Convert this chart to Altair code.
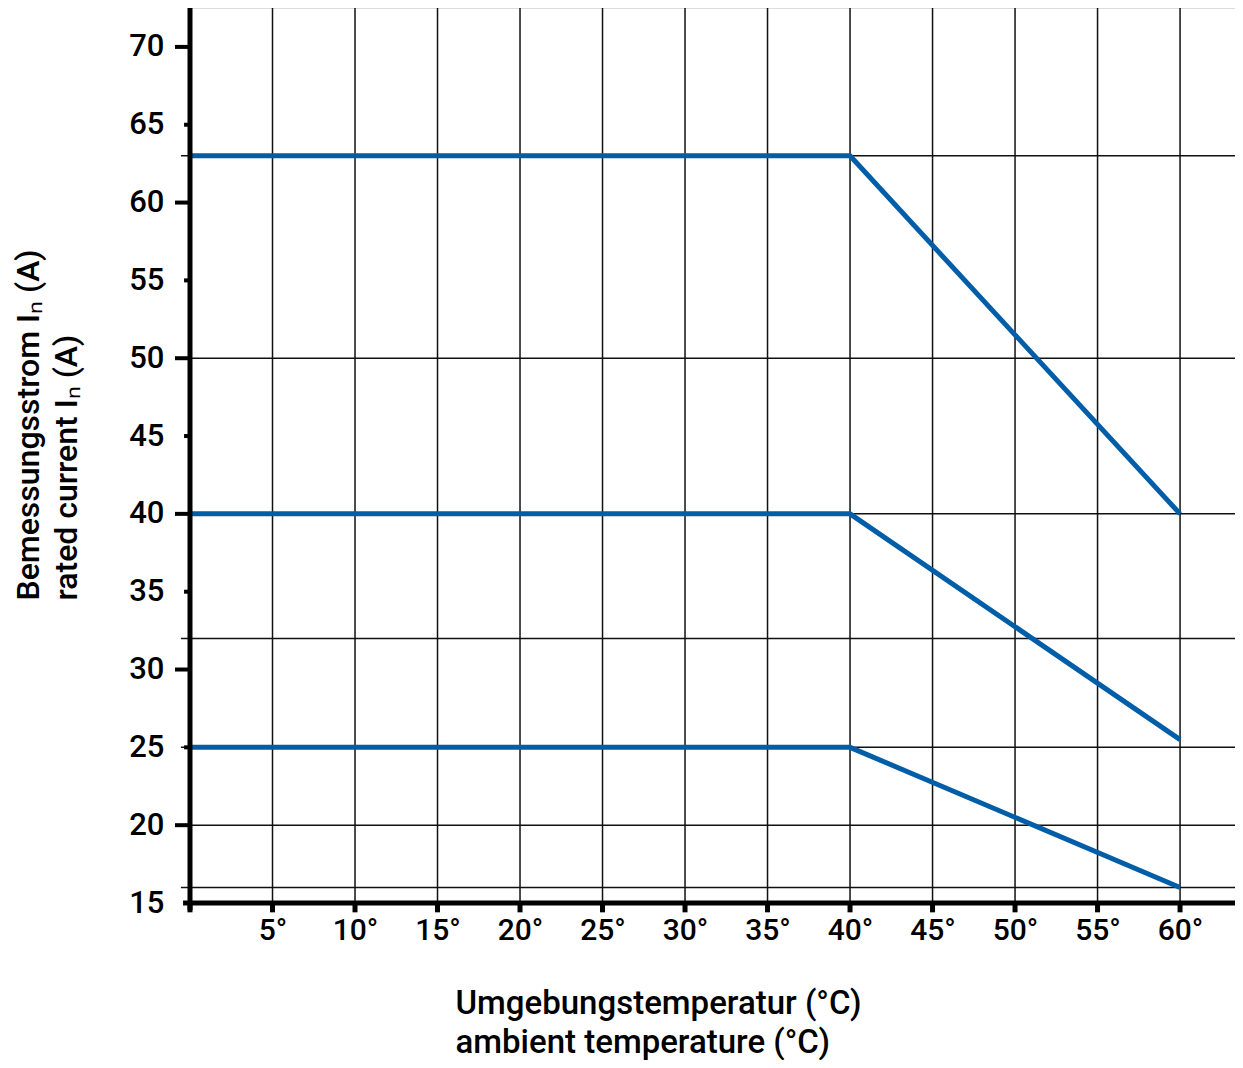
import altair as alt
import pandas as pd

# ---- data ----
temps = [0, 40, 60]
curve_63 = [63, 63, 40]
curve_40 = [40, 40, 25.5]
curve_25 = [25, 25, 16]

x_ticks = [0, 5, 10, 15, 20, 25, 30, 35, 40, 45, 50, 55, 60]
x_labels = [5, 10, 15, 20, 25, 30, 35, 40, 45, 50, 55, 60]
y_labels = [15, 20, 25, 30, 35, 40, 45, 50, 55, 60, 65, 70]
h_grid = [16, 20, 25, 32, 40, 50, 63]
v_grid = [5, 10, 15, 20, 25, 30, 35, 40, 45, 50, 55, 60]

XMAX = 63.33
YMIN, YMAX = 15, 72.5
W, H = 1045, 895

BLUE = "#005ea8"
FONT = "Roboto"
WEIGHT = 500

xs = alt.Scale(domain=[0, XMAX], nice=False, zero=False)
ys = alt.Scale(domain=[YMIN, YMAX], nice=False, zero=False)

x_axis = alt.Axis(
    values=x_labels, labelExpr="datum.value + '°'", domain=False, ticks=False, grid=False,
    labelFont=FONT, labelFontSize=30, labelFontWeight=WEIGHT, labelColor="#000",
    labelPadding=12, labelBaseline="top",
    title=["Umgebungstemperatur (°C)", "ambient temperature (°C)"],
    titleFont=FONT, titleFontSize=33, titleFontWeight=WEIGHT, titleColor="#000",
    titleAnchor="start", titleAlign="left", titleX=265, titleY=100,
    titleBaseline="middle", titleLineHeight=39,
)
y_axis = alt.Axis(
    values=y_labels, domain=False, ticks=False, grid=False,
    labelFont=FONT, labelFontSize=31, labelFontWeight=WEIGHT, labelColor="#000",
    labelPadding=26, labelBaseline="middle",
    title=["Bemessungsstrom Iₙ (A)", "rated current Iₙ (A)"],
    titleFont=FONT, titleFontSize=32, titleFontWeight=WEIGHT, titleColor="#000",
    titleAngle=-90, titleAlign="left", titleX=-162, titleY=592,
    titleBaseline="middle", titleLineHeight=38,
)


def enc_rule(df):
    return dict(
        x=alt.X("x:Q", scale=xs, axis=x_axis),
        x2="x2:Q",
        y=alt.Y("y:Q", scale=ys, axis=y_axis),
        y2="y2:Q",
    )


# horizontal grid lines
hg = pd.DataFrame({"y": h_grid, "y2": h_grid, "x": -0.55, "x2": XMAX})
# vertical grid lines
vg = pd.DataFrame({"x": v_grid, "x2": v_grid, "y": YMIN, "y2": YMAX})
# axis lines
ax = pd.DataFrame({"x": [0, -0.42], "x2": [0, XMAX], "y": [YMIN - 0.45, YMIN], "y2": [YMAX, YMIN]})
# x ticks
xt = pd.DataFrame({"x": x_ticks, "x2": x_ticks, "y": YMIN, "y2": YMIN - 0.6})
# y ticks
yt = pd.DataFrame({
    "y": y_labels, "y2": y_labels,
    "x": [-0.91 if v % 10 == 0 else -0.36 for v in y_labels],
    "x2": 0,
})

grid_h = alt.Chart(hg).mark_rule(color="#111", strokeWidth=1.5).encode(**enc_rule(hg))
grid_v = alt.Chart(vg).mark_rule(color="#111", strokeWidth=1.5).encode(**enc_rule(vg))
axes = alt.Chart(ax).mark_rule(color="#000", strokeWidth=5).encode(**enc_rule(ax))
xticks = alt.Chart(xt).mark_rule(color="#000", strokeWidth=5).encode(**enc_rule(xt))
yticks = alt.Chart(yt).mark_rule(color="#000", strokeWidth=4).encode(**enc_rule(yt))

rows = []
for name, vals in [("63", curve_63), ("40", curve_40), ("25", curve_25)]:
    for t, v in zip(temps, vals):
        rows.append({"curve": name, "x": t, "y": v})
curves_df = pd.DataFrame(rows)

curves = alt.Chart(curves_df).mark_line(color=BLUE, strokeWidth=5, strokeJoin="miter").encode(
    x=alt.X("x:Q", scale=xs, axis=x_axis),
    y=alt.Y("y:Q", scale=ys, axis=y_axis),
    detail="curve:N",
)

chart = alt.layer(grid_h, grid_v, curves, axes, xticks, yticks).properties(
    width=W, height=H,
    autosize=alt.AutoSizeParams(type="none"),
    padding={"left": 182, "top": 0, "right": 0, "bottom": 157},
).configure_view(stroke=None).configure(background="white")

chart.save("out.html", embed_options={"renderer": "svg", "actions": False})
